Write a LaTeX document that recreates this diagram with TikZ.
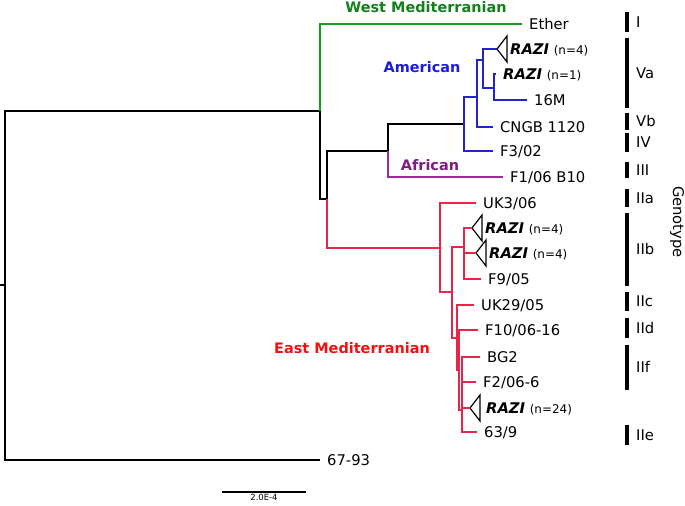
\documentclass[tikz,border=0pt]{standalone}
\usepackage{fontspec}
\setmainfont{DejaVu Sans}
\usepackage{tikz}
\usetikzlibrary{positioning}
\definecolor{wmline}{HTML}{1A9A1A}
\definecolor{wmlabel}{HTML}{13801A}
\definecolor{amline}{HTML}{2424C8}
\definecolor{amlabel}{HTML}{1C1CD8}
\definecolor{afline}{HTML}{9B2A9B}
\definecolor{aflabel}{HTML}{7F1A80}
\definecolor{emline}{HTML}{E8264A}
\definecolor{emlabel}{HTML}{F01010}
\tikzset{
  br/.style={line width=1.2bp,color=black},
  wmbr/.style={br,color=wmline},
  ambr/.style={br,color=amline},
  afbr/.style={br,color=afline},
  embr/.style={br,color=emline},
  leaf/.style={anchor=west,inner xsep=7bp,inner ysep=0pt,text height=10.8bp,text depth=0pt,font=\fontsize{14.8}{17}\selectfont},
  clade/.style={inner sep=0pt,text height=10.6bp,text depth=0pt,font=\fontsize{14.5}{17}\selectfont\bfseries},
  gbar/.style={line width=3.3bp,color=black},
  gtype/.style={anchor=west,inner sep=0pt,text height=10.8bp,text depth=0pt,font=\fontsize{14.8}{17}\selectfont},
  collapsed/.pic={\draw[line width=1.2bp] (0,0) -- (10,-13) -- (10,13) -- cycle;},
}
\newcommand{\razi}[1]{\textbf{\textit{RAZI}} {\fontsize{12}{14}\selectfont(n=#1)}}

\begin{document}
\begin{tikzpicture}[x=1bp,y=-1bp]
  \useasboundingbox (0,0) rectangle (685,506);

  \coordinate (stub) at (0,285);
  \coordinate (root) at (5,285);
  \coordinate (A) at (320,111);
  \coordinate (B) at (327,199);
  \coordinate (C) at (388,151);
  \coordinate (E) at (464,124);
  \coordinate (G) at (477,97);
  \coordinate (H) at (483,60);
  \coordinate (I) at (494,88);
  \coordinate (D) at (440,248);
  \coordinate (J) at (452,292);
  \coordinate (M) at (464,247);
  \coordinate (L2) at (457,338);
  \coordinate (L3) at (459,370);
  \coordinate (L4) at (462,410);
  \coordinate (tva) at (497,49);
  \coordinate (tiib) at (472,228);
  \coordinate (tiibb) at (476,253);
  \coordinate (tnn) at (470,408);

  \node[leaf] (ether) at (522,24) {Ether};
  \node[leaf] (razione) at (496,74) {\razi{1}};
  \node[leaf] (m16) at (527,100) {16M};
  \node[leaf] (cngb) at (493,127) {CNGB 1120};
  \node[leaf] (f302) at (493,151) {F3/02};
  \node[leaf] (f106) at (503,177) {F1/06 B10};
  \node[leaf] (uk306) at (476,203) {UK3/06};
  \node[leaf] (f905) at (481,279) {F9/05};
  \node[leaf] (uk2905) at (474,305) {UK29/05};
  \node[leaf] (f1006) at (478,330) {F10/06-16};
  \node[leaf] (bg2) at (480,357) {BG2};
  \node[leaf] (f2066) at (476,382) {F2/06-6};
  \node[leaf] (s639) at (477,432) {63/9};
  \node[leaf] (s6793) at (320,460) {67-93};

  \pic at (tva) {collapsed};
  \pic at (tiib) {collapsed};
  \pic at (tiibb) {collapsed};
  \pic at (tnn) {collapsed};
  \node[leaf] (razivaa) at (503,49) {\razi{4}};
  \node[leaf] (raziiib) at (478,228) {\razi{4}};
  \node[leaf] (raziiibb) at (482,253) {\razi{4}};
  \node[leaf] (razinn) at (479,408) {\razi{24}};

  \draw[br] (stub) -- (root);
  \draw[br] (root) |- (A);
  \draw[br] (root) |- (s6793.west);
  \draw[wmbr] (A) |- (ether.west);
  \draw[br] (A) |- (B);
  \draw[br] (B) |- (C);
  \draw[embr] (B) |- (D);
  \draw[br] (C) |- (E);
  \draw[afbr] (C) |- (f106.west);
  \draw[ambr] (E) |- (G);
  \draw[ambr] (E) |- (f302.west);
  \draw[ambr] (G) |- (H);
  \draw[ambr] (G) |- (cngb.west);
  \draw[ambr] (H) |- (tva);
  \draw[ambr] (H) |- (I);
  \draw[ambr] (I) |- (razione.west);
  \draw[ambr] (I) |- (m16.west);
  \draw[embr] (D) |- (uk306.west);
  \draw[embr] (D) |- (J);
  \draw[embr] (J) |- (M);
  \draw[embr] (J) |- (L2);
  \draw[embr] (M) |- (tiib);
  \draw[embr] (M) |- (tiibb);
  \draw[embr] (M) |- (f905.west);
  \draw[embr] (L2) |- (uk2905.west);
  \draw[embr] (L2) |- (L3);
  \draw[embr] (L3) |- (f1006.west);
  \draw[embr] (L3) |- (L4);
  \draw[embr] (L4) |- (bg2.west);
  \draw[embr] (L4) |- (f2066.west);
  \draw[embr] (L4) |- (tnn);
  \draw[embr] (L4) |- (s639.west);

  \node[clade,text=wmlabel] (wmed) at (426,7) {West Mediterranian};
  \node[clade,text=amlabel] (amer) at (422,67) {American};
  \node[clade,text=aflabel] (afri) at (430,165) {African};
  \node[clade,text=emlabel] (emed) at (352,348) {East Mediterranian};

  \foreach \ya/\yb/\lab in {12/32/I,38/108/Va,113/130/Vb,133/152/IV,162/178/III,189/207/IIa,213/286/IIb,292/311/IIc,318/338/IId,345/390/IIf,425/445/IIe}{
    \draw[gbar] (627,\ya) -- (627,\yb);
    \node[gtype] at (636,{(\ya+\yb)/2}) {\lab};
  }
  \node[rotate=-90,inner sep=0pt,font=\fontsize{14.8}{17}\selectfont] (geno) at (677,222) {Genotype};

  \coordinate (sbl) at (222,492);
  \coordinate (sbr) at (306,492);
  \draw[br] (sbl) -- (sbr) node[midway,below=2bp,inner sep=0pt,font=\fontsize{8.5}{10}\selectfont] (sblab) {2.0E-4};
\end{tikzpicture}
\end{document}
